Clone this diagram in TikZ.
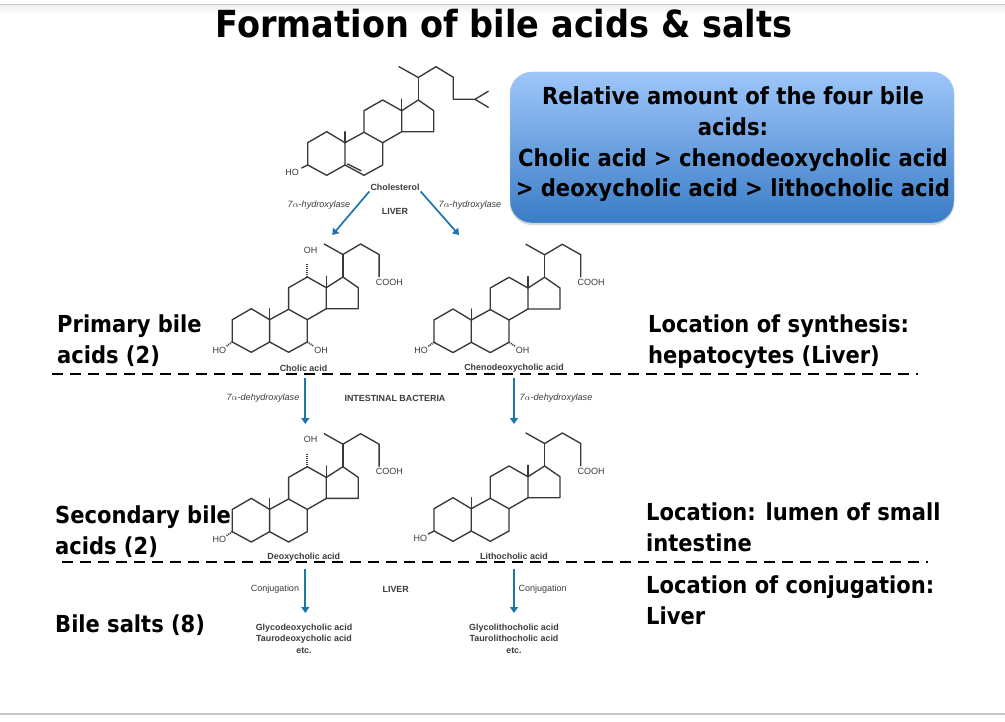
\documentclass[tikz,border=0pt]{standalone}
\usepackage{fontspec}
\setmainfont{DejaVu Sans Condensed}[BoldFont={DejaVu Sans Condensed Bold}]
\newfontfamily\chemfont{Liberation Sans}
\usetikzlibrary{arrows.meta,shadows}
\definecolor{arrowblue}{RGB}{28,118,170}
\definecolor{chemgray}{RGB}{60,60,60}
\tikzset{
	bond/.style={line width=1.35pt,color=black!78,line join=round,line cap=round},
	hashbond/.style={line width=1.8pt,color=black!78,dash pattern=on 1pt off 1pt},
	reaction/.style={line width=1.7pt,color=arrowblue,-{Triangle[width=8pt,length=6pt]}},
	divider/.style={line width=2.8pt,dash pattern=on 11pt off 7pt},
	atomtext/.style={font=\chemfont\fontsize{9}{10}\selectfont,color=chemgray,inner sep=0pt},
	smalltext/.style={font=\chemfont\fontsize{9}{10}\selectfont,color=chemgray,inner sep=1pt},
	boldtext/.style={font=\chemfont\bfseries\fontsize{8.9}{10}\selectfont,color=chemgray,inner sep=1pt},
	enzyme/.style={font=\chemfont\itshape\fontsize{9.1}{10}\selectfont,color=chemgray,inner sep=1pt},
	chemname/.style={font=\chemfont\bfseries\fontsize{8.9}{11.5}\selectfont,color=chemgray,inner sep=1pt,align=center},
	sidelabel/.style={font=\bfseries\fontsize{23.4}{31}\selectfont,anchor=west,align=left,inner sep=0pt},
}
\newcommand{\steroidcore}{
	\draw [bond] (307.7,165) -- (307.7,142.7) -- (326.7,131.7) -- (345,142.7) -- (345,165) -- (326.7,175.3) -- cycle;
	\draw [bond] (345,142.7) -- (364,132.3) -- (382.7,142.7) -- (382.7,165) -- (364,175.3) -- (345,165);
	\draw [bond] (364,132.3) -- (364,110.7) -- (382.7,100) -- (401.7,110.7) -- (401.7,131.7) -- (382.7,142.7);
	\draw [bond] (401.7,110.7) -- (418.3,100) -- (433.7,110.7) -- (433.7,131.7) -- (401.7,131.7);
	\draw [bond] (345,142.7) -- (345,131.7);
	\draw [bond] (401.7,110.7) -- (401.7,99.3);
	\draw [bond] (418.3,100) -- (418.3,77.5);
}
\newcommand{\acidchain}{
	\draw [bond] (399.6,67) -- (418.3,77.5) -- (436,67) -- (454.5,77.5) -- (454.5,99.7);
	\node [atomtext] at (464.8,105) {COOH};
}
\begin{document}
\begin{tikzpicture}[x=1pt,y=-1pt]
	\useasboundingbox (0,0) rectangle (1005,722);
	\fill [white] (0,0) rectangle (1005,722);
	\fill [top color=black!6,bottom color=white] (0,5) rectangle (1005,14);
	\draw [line width=1.4pt,color=black!22] (0,4.4) -- (1005,4.4);
	\draw [line width=2pt,color=black!22] (0,713.7) -- (1005,713.7);

	\node [font=\bfseries\fontsize{37.3}{40}\selectfont] (title) at (504,24) {Formation of bile acids \& salts};

	\node [rounded corners=22pt,minimum width=444pt,minimum height=151pt,inner sep=0pt,
		draw=arrowblue!40,
		top color={rgb,255:red,158;green,198;blue,250},bottom color={rgb,255:red,58;green,124;blue,198},
		drop shadow={opacity=.3,shadow xshift=0pt,shadow yshift=-2pt}] (amountbox) at (732,147.5) {};
	\node [inner sep=0pt,align=center,font=\bfseries\fontsize{23.5}{30.6}\selectfont] (amounttext) at (733,144.5)
		{Relative amount of the four bile\\acids:\\Cholic acid > chenodeoxycholic acid\\> deoxycholic acid > lithocholic acid};

	% cholesterol
	\steroidcore
	\draw [bond] (307.7,165) -- (301.7,168);
	\draw [bond] (347.5,164) -- (361,170.7);
	\draw [bond] (399,66.7) -- (418.3,77.5) -- (436,66.7) -- (453.3,77.3) -- (453.3,99.3) -- (475,99.3) -- (488.3,91.3);
	\draw [bond] (475,99.3) -- (488.3,107.3);
	\node [atomtext] (cholesterolho) at (292,172) {HO};
	\node [chemname] (cholesterol) at (395,187) {Cholesterol};

	% primary acids
	\begin{scope}[shift={(-75.4,177)}]
		\steroidcore
		\acidchain
		\draw [hashbond] (307.7,165) -- (302,169);
		\draw [hashbond] (382.7,165) -- (389,169);
		\draw [hashbond] (382.7,100) -- (382.7,87);
		\node [atomtext] at (294.7,173) {HO};
		\node [atomtext] at (396.4,173) {OH};
		\node [atomtext] at (386,73.7) {OH};
	\end{scope}
	\begin{scope}[shift={(126.3,177.3)}]
		\steroidcore
		\acidchain
		\draw [hashbond] (307.7,165) -- (302,169);
		\draw [hashbond] (382.7,165) -- (389,169);
		\node [atomtext] at (294.7,173) {HO};
		\node [atomtext] at (396.4,173) {OH};
	\end{scope}

	% secondary acids
	\begin{scope}[shift={(-75.4,366.7)}]
		\steroidcore
		\acidchain
		\draw [hashbond] (307.7,165) -- (302,169);
		\draw [hashbond] (382.7,100) -- (382.7,87);
		\node [atomtext] at (294.7,172.5) {HO};
		\node [atomtext] at (386,73) {OH};
	\end{scope}
	\begin{scope}[shift={(126.3,366)}]
		\steroidcore
		\acidchain
		\draw [bond] (307.7,165) -- (302,168);
		\node [atomtext] at (294,172.5) {HO};
	\end{scope}

	\node [chemname] (cholic) at (303.5,368.5) {Cholic acid};
	\node [chemname] (cheno) at (514,368.5) {Chenodeoxycholic acid};
	\node [chemname] (deoxy) at (303.8,556.7) {Deoxycholic acid};
	\node [chemname] (litho) at (514,556.7) {Lithocholic acid};

	\draw [divider] (52,374) -- (918,374);
	\draw [divider] (62,562) -- (928,562);

	\node [enzyme] (hydroxylaseL) at (319,205) {7$\alpha$-hydroxylase};
	\node [enzyme] (hydroxylaseR) at (470,205) {7$\alpha$-hydroxylase};
	\node [boldtext] (liverU) at (395,211) {LIVER};
	\node [enzyme] (dehydroxylaseL) at (263,398) {7$\alpha$-dehydroxylase};
	\node [enzyme] (dehydroxylaseR) at (556,398) {7$\alpha$-dehydroxylase};
	\node [boldtext] (bacteria) at (395,398) {INTESTINAL BACTERIA};
	\node [smalltext] (conjugationL) at (275,589) {Conjugation};
	\node [smalltext] (conjugationR) at (542.7,589) {Conjugation};
	\node [boldtext] (liverD) at (395.7,589) {LIVER};
	\node [chemname] (saltsL) at (304,638.5) {Glycodeoxycholic acid\\Taurodeoxycholic acid\\etc.};
	\node [chemname] (saltsR) at (514,638.5) {Glycolithocholic acid\\Taurolithocholic acid\\etc.};

	\coordinate (cholicin) at (332.3,235);
	\coordinate (chenoin) at (459,235);
	\coordinate (cholicout) at (305.3,378);
	\coordinate (deoxyin) at (305.3,424);
	\coordinate (chenoout) at (514,378);
	\coordinate (lithoin) at (514,424);
	\coordinate (deoxyout) at (305.3,569);
	\coordinate (saltsinL) at (305.3,613);
	\coordinate (lithoout) at (514,569);
	\coordinate (saltsinR) at (514,613);
	\draw [reaction] (cholesterol.south west) -- (cholicin);
	\draw [reaction] (cholesterol.south east) -- (chenoin);
	\draw [reaction] (cholicout) -- (deoxyin);
	\draw [reaction] (chenoout) -- (lithoin);
	\draw [reaction] (deoxyout) -- (saltsinL);
	\draw [reaction] (lithoout) -- (saltsinR);

	\node [sidelabel] (primary) at (57,341) {Primary bile\\acids (2)};
	\node [sidelabel] (secondary) at (55,531.5) {Secondary bile\\acids (2)};
	\node [sidelabel] (salts) at (55,625) {Bile salts (8)};
	\node [sidelabel] (synthesis) at (648,342) {Location of synthesis:\\hepatocytes (Liver)};
	\node [sidelabel] (lumen) at (646,527) {Location: lumen of small\\intestine};
	\node [sidelabel] (conjugation) at (646,600) {Location of conjugation:\\Liver};
\end{tikzpicture}
\end{document}
